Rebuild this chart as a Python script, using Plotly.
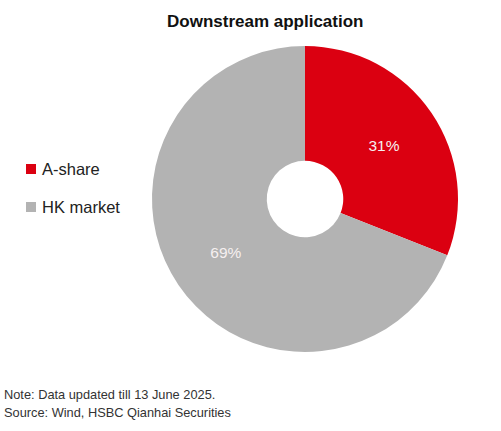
import plotly.graph_objects as go

# Share of downstream application companies by listing venue
categories = ["A-share", "HK market"]
shares = [31, 69]
colors = ["#DB0011", "#B3B3B3"]

title_text = "Downstream application"
note_lines = [
    "Note: Data updated till 13 June 2025.",
    "Source: Wind, HSBC Qianhai Securities",
]

W, H = 501, 431
FONT = "Liberation Sans, Arial, sans-serif"


def px_x(x):
    return x / W


def px_y(y):
    return 1 - y / H


# donut geometry in pixels
cx, cy, r = 305, 199, 153

fig = go.Figure(
    go.Pie(
        labels=categories,
        values=shares,
        marker=dict(colors=colors, line=dict(width=0)),
        hole=0.25,
        sort=False,
        direction="clockwise",
        rotation=0,
        texttemplate="%{percent:.0%}",
        textposition="inside",
        insidetextorientation="horizontal",
        textfont=dict(family=FONT, size=15.5, color="#F6F0F0"),
        showlegend=False,
        hoverinfo="label+percent",
        domain=dict(
            x=[px_x(cx - r), px_x(cx + r)],
            y=[px_y(cy + r), px_y(cy - r)],
        ),
    )
)

annotations = [
    dict(
        text=f"<b>{title_text}</b>",
        x=px_x(265), y=px_y(21), xref="paper", yref="paper",
        xanchor="center", yanchor="middle", showarrow=False,
        font=dict(family=FONT, size=17, color="#111111"),
    )
]
shapes = []

# legend drawn at the left side
leg_y = [169, 207]
for name, col, yy in zip(categories, colors, leg_y):
    shapes.append(dict(
        type="rect", xref="paper", yref="paper",
        x0=px_x(26), x1=px_x(36), y0=px_y(yy + 5), y1=px_y(yy - 5),
        fillcolor=col, line=dict(width=0),
    ))
    annotations.append(dict(
        text=name, x=px_x(40), y=px_y(yy), xref="paper", yref="paper",
        xanchor="left", yanchor="middle", showarrow=False,
        font=dict(family=FONT, size=16.5, color="#222222"),
    ))

for i, line in enumerate(note_lines):
    annotations.append(dict(
        text=line, x=px_x(2), y=px_y(394 + 18 * i), xref="paper", yref="paper",
        xanchor="left", yanchor="middle", showarrow=False,
        font=dict(family=FONT, size=12.8, color="#333333"),
    ))

fig.update_layout(
    width=W, height=H,
    margin=dict(l=0, r=0, t=0, b=0),
    paper_bgcolor="white",
    plot_bgcolor="white",
    annotations=annotations,
    shapes=shapes,
)

fig.write_html("out.html")
